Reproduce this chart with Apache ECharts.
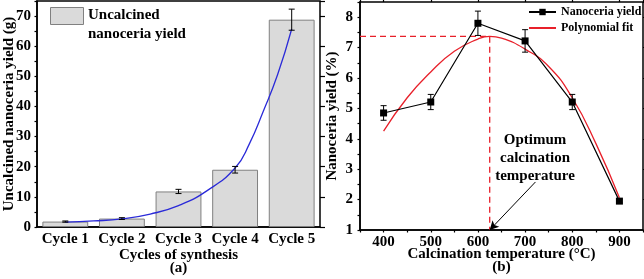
<!DOCTYPE html>
<html><head><meta charset="utf-8">
<script src="https://cdn.jsdelivr.net/npm/echarts@6/dist/echarts.min.js"></script>
<style>html,body{margin:0;padding:0;background:#fff}#c{width:644px;height:279px}</style>
</head><body><div id="c"></div>
<script>
// ---- panel (a) ----
const cycles = ['Cycle 1', 'Cycle 2', 'Cycle 3', 'Cycle 4', 'Cycle 5'];
const yieldG = [1.8, 2.8, 11.8, 19.0, 68.8];
const yieldGErr = [0.2, 0.3, 0.7, 1.1, 3.5];
const expFitX = [1, 1.5, 2, 2.5, 3, 3.5, 4, 4.25, 4.5, 4.75, 5];
const expFitY = [1.6, 2.0, 2.7, 4.3, 7.1, 12.0, 19.6, 27.5, 38.5, 50.5, 65.7];
const leftYTicks = [0, 10, 20, 30, 40, 50, 60, 70];

// ---- panel (b) ----
const temps = [400, 500, 600, 700, 800, 900];
const yieldPct = [4.85, 5.21, 7.8, 7.22, 5.21, 1.95];
const yieldPctErr = [0.24, 0.25, 0.4, 0.37, 0.25, 0.06];
const polyX = [400, 450, 500, 550, 600, 625, 650, 700, 750, 800, 850, 900];
const polyY = [4.25, 5.35, 6.2, 6.88, 7.28, 7.37, 7.31, 6.95, 6.38, 5.35, 3.85, 2.06];
const optLineX = [350, 625, 625];
const optLineY = [7.37, 7.37, 1];
const arrowFrom = [722, 2.58];
const arrowTo = [625, 1];
const rightXTicks = [400, 500, 600, 700, 800, 900];
const rightYTicks = [1, 2, 3, 4, 5, 6, 7, 8];

const FF = "'Liberation Serif','Times New Roman',serif";
const txt = (size) => ({ fontFamily: FF, fontWeight: 'bold', fontSize: size, color: '#000' });
const zip = (a, b) => a.map((v, i) => [v, b[i]]);

function errRender(params, api) {
  const x = api.value(0), lo = api.value(1), hi = api.value(2);
  const pHi = api.coord([x, hi]), pLo = api.coord([x, lo]);
  const w = 3;
  const st = { stroke: '#000', lineWidth: 1 };
  return { type: 'group', children: [
    { type: 'line', shape: { x1: pHi[0], y1: pHi[1], x2: pLo[0], y2: pLo[1] }, style: st },
    { type: 'line', shape: { x1: pHi[0] - w, y1: pHi[1], x2: pHi[0] + w, y2: pHi[1] }, style: st },
    { type: 'line', shape: { x1: pLo[0] - w, y1: pLo[1], x2: pLo[0] + w, y2: pLo[1] }, style: st }
  ]};
}

const axisLine = { show: true, lineStyle: { color: '#000', width: 1.5 } };
const barColor = '#dadada';

const option = {
  animation: false,
  backgroundColor: '#fff',
  grid: [
    { left: 37, top: 1, width: 283, height: 226, show: true, borderColor: '#000', borderWidth: 1.5,
      backgroundColor: 'transparent', containLabel: false, outerBoundsMode: 'none' },
    { left: 360, top: 2, width: 283, height: 228, show: true, borderColor: '#000', borderWidth: 1.5,
      backgroundColor: 'transparent', containLabel: false, outerBoundsMode: 'none' }
  ],
  xAxis: [
    { type: 'category', gridIndex: 0, data: cycles, boundaryGap: true,
      axisLine, axisTick: { alignWithLabel: true, length: 4, lineStyle: { color: '#000', width: 1.2 } },
      axisLabel: { ...txt(15), margin: 5, interval: 0 },
      name: 'Cycles of synthesis\n(a)', nameLocation: 'middle', nameGap: 22, nameMoveOverlap: false,
      nameTextStyle: { ...txt(15), lineHeight: 13 } },
    { type: 'value', gridIndex: 0, min: 0.5, max: 5.5, show: false },
    { type: 'value', gridIndex: 1, min: 350, max: 950, interval: 50,
      axisLine, splitLine: { show: false },
      axisTick: { length: 2.5, lineStyle: { color: '#000', width: 1.2 } },
      axisLabel: { ...txt(15), margin: 5, formatter: v => rightXTicks.includes(v) ? String(v) : '' },
      name: 'Calcination temperature (\u00B0C)\n(b)', nameLocation: 'middle', nameGap: 18, nameMoveOverlap: false,
      nameTextStyle: { ...txt(15), lineHeight: 13 } },
    { type: 'value', gridIndex: 1, min: 350, max: 950, splitNumber: 6,
      axisLine: { show: false }, splitLine: { show: false }, axisLabel: { show: false },
      axisTick: { length: 5, lineStyle: { color: '#000', width: 1.2 } } }
  ],
  yAxis: [
    { type: 'value', gridIndex: 0, min: 0, max: 75, interval: 5,
      axisLine, splitLine: { show: false },
      axisTick: { show: true, length: 2.5, lineStyle: { color: '#000', width: 1.2 } },
      axisLabel: { ...txt(15), margin: 6, formatter: v => leftYTicks.includes(v) ? String(v) : '' },
      name: 'Uncalcined nanoceria yield (g)', nameLocation: 'middle', nameGap: 20, nameMoveOverlap: false,
      nameTextStyle: txt(15) },
    { type: 'value', gridIndex: 0, min: 0, max: 75, interval: 10,
      axisLine: { show: false }, splitLine: { show: false }, axisLabel: { show: false },
      axisTick: { show: true, length: 5, lineStyle: { color: '#000', width: 1.2 } } },
    { type: 'value', gridIndex: 1, min: 1, max: 8.5, interval: 0.5,
      axisLine, splitLine: { show: false },
      axisTick: { show: true, length: 2.5, lineStyle: { color: '#000', width: 1.2 } },
      axisLabel: { ...txt(15), margin: 7, formatter: v => rightYTicks.includes(v) ? String(v) : '' },
      name: 'Nanoceria yield (%)', nameLocation: 'middle', nameGap: 20, nameMoveOverlap: false,
      nameTextStyle: txt(15) },
    { type: 'value', gridIndex: 1, min: 1, max: 8.5, interval: 1,
      axisLine: { show: false }, splitLine: { show: false }, axisLabel: { show: false },
      axisTick: { show: true, length: 5, lineStyle: { color: '#000', width: 1.2 } } }
  ],
  legend: {
    data: ['Nanoceria yield', { name: 'Polynomial fit', itemStyle: { opacity: 0 } }],
    orient: 'vertical', left: 528, top: 6, padding: 0, itemWidth: 27, itemHeight: 8, itemGap: 4,
    textStyle: { ...txt(12), lineHeight: 12 }
  },
  graphic: [
    { type: 'rect', left: 50, top: 7, shape: { width: 33, height: 17 },
      style: { fill: barColor, stroke: '#808080', lineWidth: 1 } },
    { type: 'text', left: 88, top: 8, style: { text: 'Uncalcined', font: "bold 15px " + FF, fill: '#000' } },
    { type: 'text', left: 88, top: 27, style: { text: 'nanoceria yield', font: "bold 15px " + FF, fill: '#000' } },
    { type: 'text', x: 535, y: 131,
      style: { text: 'Optimum\ncalcination\ntemperature', font: "bold 15px " + FF, fill: '#000',
        textAlign: 'center', align: 'center', textVerticalAlign: 'top', verticalAlign: 'top', lineHeight: 18 } }
  ],
  series: [
    { type: 'bar', xAxisIndex: 0, yAxisIndex: 0, data: yieldG, barWidth: '81%',
      itemStyle: { color: barColor, borderColor: '#808080', borderWidth: 1 } },
    { type: 'custom', xAxisIndex: 0, yAxisIndex: 0, renderItem: errRender, z: 5,
      data: yieldG.map((v, i) => [i, v - yieldGErr[i], v + yieldGErr[i]]) },
    { type: 'line', xAxisIndex: 1, yAxisIndex: 0, data: zip(expFitX, expFitY), smooth: true,
      symbol: 'none', lineStyle: { color: '#2a2ad8', width: 1.3 }, z: 4 },
    { type: 'line', name: 'Polynomial fit', xAxisIndex: 2, yAxisIndex: 2, data: zip(polyX, polyY), smooth: true,
      symbol: 'none', itemStyle: { color: '#e8202a' }, lineStyle: { color: '#e8202a', width: 1.3 } },
    { type: 'line', xAxisIndex: 2, yAxisIndex: 2, data: zip(optLineX, optLineY), symbol: 'none',
      lineStyle: { color: '#e8202a', width: 1.3, type: [6, 4] },
      markLine: { silent: true, symbol: ['none', 'arrow'], symbolSize: [7, 9],
        lineStyle: { color: '#000', width: 1, type: 'solid' }, label: { show: false },
        data: [[{ coord: arrowFrom }, { coord: arrowTo }]] } },
    { type: 'line', name: 'Nanoceria yield', xAxisIndex: 2, yAxisIndex: 2, data: zip(temps, yieldPct),
      symbol: 'rect', symbolSize: 7, itemStyle: { color: '#000' }, lineStyle: { color: '#000', width: 1.2 }, z: 6 },
    { type: 'custom', xAxisIndex: 2, yAxisIndex: 2, renderItem: errRender, z: 6,
      data: yieldPct.map((v, i) => [temps[i], v - yieldPctErr[i], v + yieldPctErr[i]]) }
  ]
};
const chart = echarts.init(document.getElementById('c'), null, { renderer: 'canvas' });
chart.setOption(option);
</script></body></html>
